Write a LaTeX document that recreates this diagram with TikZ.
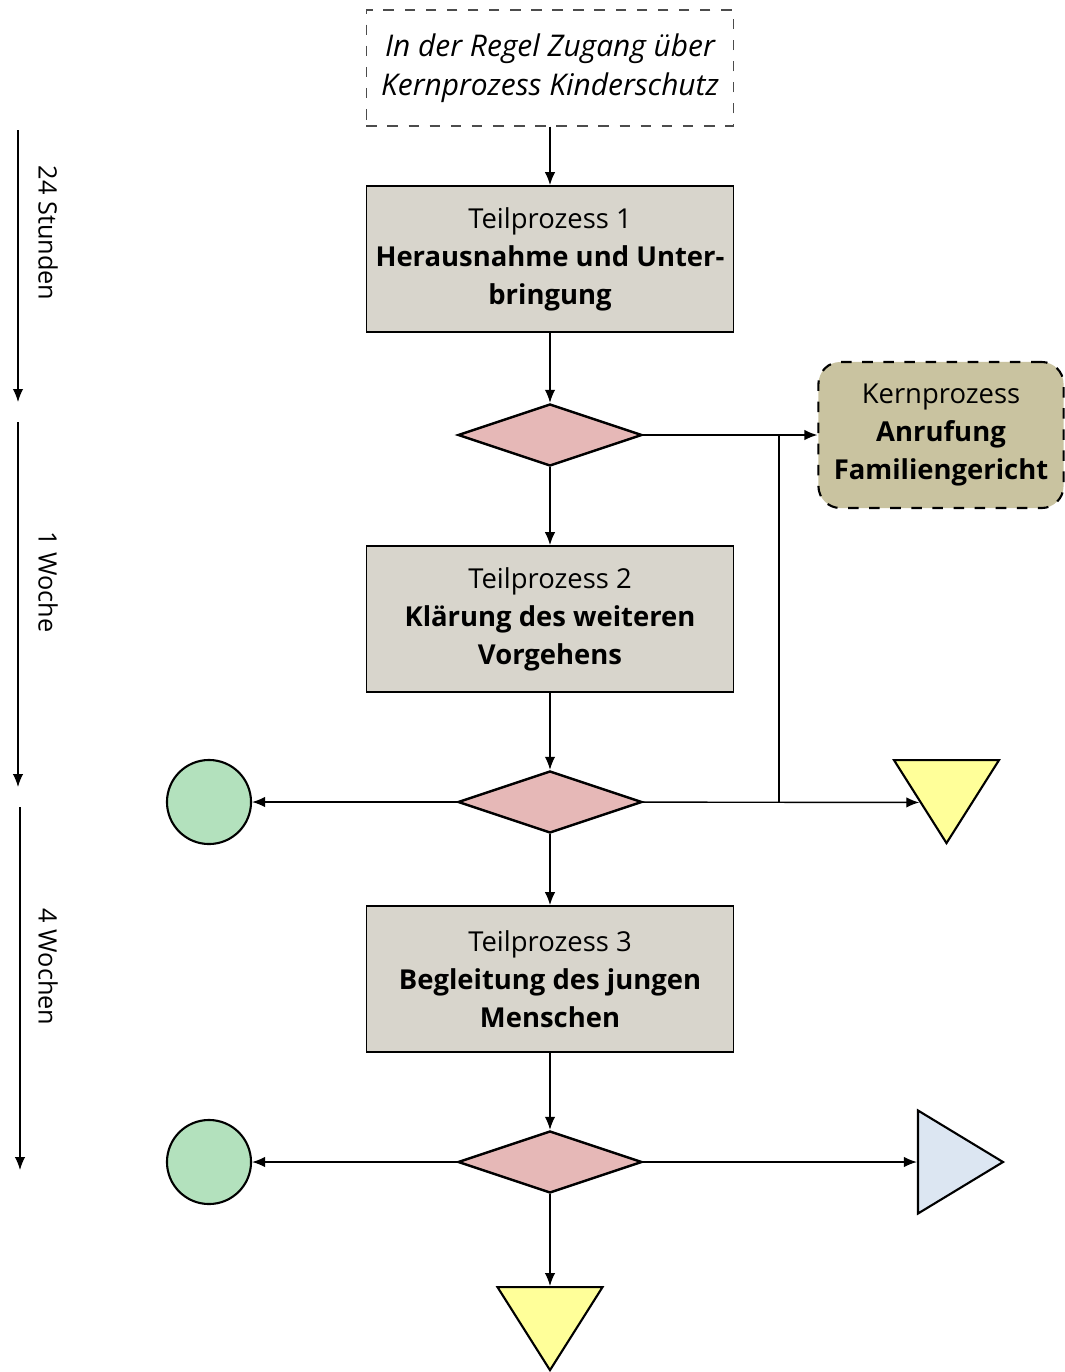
\documentclass[tikz,border=0pt]{standalone}
\usepackage{fontspec}
\setmainfont{Open Sans}
\usetikzlibrary{positioning,arrows.meta,shapes.geometric}
\definecolor{procgray}{HTML}{D8D5CC}
\definecolor{kerntan}{HTML}{C9C3A0}
\definecolor{decpink}{HTML}{E6B8B7}
\definecolor{endgreen}{HTML}{B3E1BD}
\definecolor{stopyellow}{HTML}{FFFF99}
\definecolor{outblue}{HTML}{DCE6F2}

\begin{document}
\begin{tikzpicture}[x=0.01cm, y=-0.01cm, >={Latex[length=1.3mm,width=1.05mm]},
  every node/.style={font=\fontsize{7.8}{10.8}\selectfont, align=center},
  proc/.style={draw, line width=0.5pt, fill=procgray, minimum width=3.67cm, minimum height=1.46cm, inner sep=0pt},
  dec/.style={diamond, draw, line width=0.7pt, fill=decpink, minimum width=1.84cm, minimum height=0.62cm, inner sep=0pt},
  endc/.style={circle, draw, line width=0.6pt, fill=endgreen, minimum size=0.84cm, inner sep=0pt},
  stopt/.style={isosceles triangle, isosceles triangle stretches, shape border rotate=-90, draw, line width=0.6pt, fill=stopyellow, minimum width=1.05cm, minimum height=0.83cm, inner sep=0pt},
  outt/.style={isosceles triangle, isosceles triangle stretches, draw, line width=0.6pt, fill=outblue, minimum width=1.03cm, minimum height=0.85cm, inner sep=0pt},
  timel/.style={rotate=-90, font=\fontsize{7.2}{9}\selectfont}]
  \useasboundingbox (0,0) rectangle (1065,1372);
  % entry and main process
  \node[draw=black!70, dashed, minimum width=3.67cm, minimum height=1.16cm, inner sep=0pt, font=\fontsize{8.5}{11}\selectfont\itshape] (start) at (550,68) {In der Regel Zugang über\\Kernprozess Kinderschutz};
  \node[proc] (tp1) at (550,259) {Teilprozess 1\\\textbf{Herausnahme und Unter-}\\\textbf{bringung}};
  \node[dec] (d1) at (550,435) {};
  \node[draw, dashed, rounded corners=0.22cm, fill=kerntan, line width=0.6pt, minimum width=2.45cm, minimum height=1.46cm, inner sep=0pt] (kern) at (941,435) {Kernprozess\\\textbf{Anrufung}\\\textbf{Familiengericht}};
  \node[proc] (tp2) at (550,619) {Teilprozess 2\\\textbf{Klärung des weiteren}\\\textbf{Vorgehens}};
  \node[dec] (d2) at (550,802) {};
  \node[endc] (end1) at (209,802) {};
  \node[stopt] (stop1) at (946.5,789) {};
  \node[proc] (tp3) at (550,979) {Teilprozess 3\\\textbf{Begleitung des jungen}\\\textbf{Menschen}};
  \node[dec] (d3) at (550,1162) {};
  \node[endc] (end2) at (209,1162) {};
  \node[outt] (out) at (947,1162) {};
  \node[stopt] (stop2) at (550,1316) {};
  \coordinate (join) at (779,802);

  \draw[->] (start) -- (tp1);
  \draw[->] (tp1) -- (d1);
  \draw[->] (d1) -- (kern);
  \draw[->] (d1) -- (tp2);
  \draw[->] (tp2) -- (d2);
  \draw[->] (d2) -- (end1);
  \draw[->] (d2) -- (stop1.right side);
  \draw (join) -- (join |- kern);
  \draw[->] (d2) -- (tp3);
  \draw[->] (tp3) -- (d3);
  \draw[->] (d3) -- (end2);
  \draw[->] (d3) -- (out);
  \draw[->] (d3) -- (stop2);

  % time line
  \coordinate (t0) at (18,130);
  \coordinate (t1) at (18,402);
  \coordinate (t2) at (18,422);
  \coordinate (t3) at (18,787);
  \coordinate (t4) at (20,807);
  \coordinate (t5) at (20,1170);
  \draw[->] (t0) -- (t1);
  \draw[->] (t2) -- (t3);
  \draw[->] (t4) -- (t5);
  \node[timel] (l1) at (48,233) {24 Stunden};
  \node[timel] (l2) at (48,582) {1 Woche};
  \node[timel] (l3) at (48,967) {4 Wochen};
\end{tikzpicture}
\end{document}
